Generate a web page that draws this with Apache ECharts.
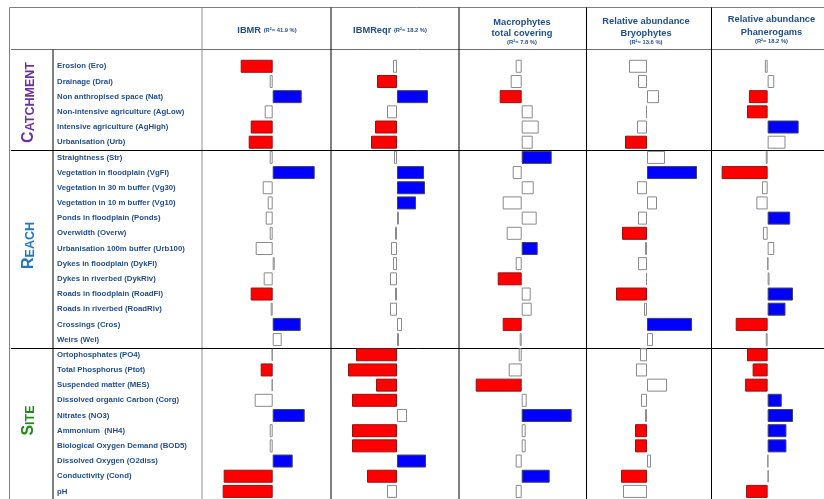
<!DOCTYPE html>
<html>
<head>
<meta charset="utf-8">
<script src="https://cdn.jsdelivr.net/npm/echarts@6/dist/echarts.min.js"></script>
<style>
  html, body { margin: 0; padding: 0; background: #fff; }
  #chart { width: 824px; height: 499px; }
</style>
</head>
<body>
<div id="chart"></div>
<script>
// Explanatory variables, grouped by scale (catchment, reach, site)
const rowLabels = [
  'Erosion (Ero)', 'Drainage (Drai)', 'Non anthropised space (Nat)',
  'Non-intensive agriculture (AgLow)', 'Intensive agriculture (AgHigh)', 'Urbanisation (Urb)',
  'Straightness (Str)', 'Vegetation in floodplain (VgFl)', 'Vegetation in 30 m buffer (Vg30)',
  'Vegetation in 10 m buffer (Vg10)', 'Ponds in floodplain (Ponds)', 'Overwidth (Overw)',
  'Urbanisation 100m buffer (Urb100)', 'Dykes in floodplain (DykFl)', 'Dykes in riverbed (DykRiv)',
  'Roads in floodplain (RoadFl)', 'Roads in riverbed (RoadRiv)', 'Crossings (Cros)', 'Weirs (Wei)',
  'Ortophosphates (PO4)', 'Total Phosphorus (Ptot)', 'Suspended matter (MES)',
  'Dissolved organic Carbon (Corg)', 'Nitrates (NO3)', 'Ammonium  (NH4)',
  'Biological Oxygen Demand (BOD5)', 'Dissolved Oxygen (O2diss)', 'Conductivity (Cond)', 'pH'
];

// Standardised effects per response metric
const ibmr = [-0.32, -0.03, 0.29, -0.08, -0.22, -0.24,
  -0.03, 0.42, -0.10, -0.05, -0.07, -0.03, -0.17, 0.02, -0.09, -0.22, -0.02, 0.28, 0.09,
  -0.01, -0.12, -0.01, -0.18, 0.32, -0.03, -0.03, 0.20, -0.49, -0.50];
const ibmrSig = [1, 0, 1, 0, 1, 1,
  0, 1, 0, 0, 0, 0, 0, 0, 0, 1, 0, 1, 0,
  0, 1, 0, 0, 1, 0, 0, 1, 1, 1];

const ibmreqr = [-0.04, -0.20, 0.31, -0.10, -0.22, -0.26,
  -0.03, 0.27, 0.28, 0.19, 0.02, -0.02, -0.06, -0.04, -0.07, -0.02, -0.07, 0.05, 0.02,
  -0.41, -0.49, -0.21, -0.45, 0.10, -0.45, -0.45, 0.29, -0.30, -0.10];
const ibmreqrSig = [0, 1, 1, 0, 1, 1,
  0, 1, 1, 1, 0, 0, 0, 0, 0, 0, 0, 0, 0,
  1, 1, 1, 1, 0, 1, 1, 1, 1, 0];

const macroCover = [-0.06, -0.11, -0.22, 0.11, 0.17, 0.11,
  0.30, -0.09, 0.12, -0.19, 0.15, -0.15, 0.16, -0.06, -0.24, 0.09, 0.10, -0.19, -0.02,
  -0.03, -0.13, -0.46, 0.05, 0.50, 0.04, 0.04, -0.06, 0.28, -0.06];
const macroCoverSig = [0, 0, 1, 0, 0, 0,
  1, 0, 0, 0, 0, 0, 1, 0, 1, 0, 0, 1, 0,
  0, 0, 1, 0, 1, 0, 0, 0, 1, 0];

const bryophytes = [-0.18, -0.09, 0.12, -0.01, -0.10, -0.22,
  0.18, 0.50, -0.10, 0.10, -0.09, -0.25, -0.02, -0.09, -0.01, -0.31, -0.03, 0.45, 0.06,
  -0.07, -0.11, 0.20, -0.06, -0.02, -0.12, -0.12, 0.04, -0.26, -0.24];
const bryophytesSig = [0, 0, 0, 0, 0, 1,
  0, 1, 0, 0, 0, 1, 0, 0, 0, 1, 0, 1, 0,
  0, 0, 0, 0, 0, 1, 1, 0, 1, 0];

const phanerogams = [-0.03, 0.07, -0.20, -0.22, 0.33, 0.19,
  -0.02, -0.49, -0.06, -0.12, 0.24, -0.05, 0.07, 0.004, 0.02, 0.27, 0.19, -0.34, -0.02,
  -0.22, -0.16, -0.24, 0.15, 0.27, 0.20, 0.20, 0.005, 0.01, -0.23];
const phanerogamsSig = [0, 0, 1, 1, 1, 0,
  0, 1, 0, 0, 1, 0, 0, 0, 0, 1, 1, 1, 0,
  1, 1, 1, 1, 1, 1, 1, 0, 0, 1];

const metrics = [
  { values: ibmr, sig: ibmrSig },
  { values: ibmreqr, sig: ibmreqrSig },
  { values: macroCover, sig: macroCoverSig },
  { values: bryophytes, sig: bryophytesSig },
  { values: phanerogams, sig: phanerogamsSig }
];

// Layout
const zeroX = [272.7, 397, 521.7, 647, 771.3];
const half = 60;            // px for 0.6 units
const gridTop = 58.7;
const gridHeight = 440.8;
const labelX = 57;

const NAVY = '#1f4e8c';
const RED = '#ff0000';
const BLUE = '#0000ff';
const FONT = '"Liberation Sans", Arial, sans-serif';

const grids = [], xAxes = [], yAxes = [], series = [];
metrics.forEach((m, i) => {
  const left = zeroX[i] - half;
  grids.push({ left: left, width: half * 2, top: gridTop, height: gridHeight });
  xAxes.push({ gridIndex: i, type: 'value', min: -0.6, max: 0.6, show: false });
  yAxes.push({
    gridIndex: i, type: 'category', data: rowLabels, inverse: true,
    show: i === 0,
    axisLine: { show: false, onZero: false },
    axisTick: { show: false },
    splitLine: { show: false },
    axisLabel: {
      show: i === 0, align: 'left', margin: left - labelX,
      color: NAVY, fontFamily: FONT, fontWeight: 'bold', fontSize: 7.8
    }
  });
  series.push({
    type: 'bar', xAxisIndex: i, yAxisIndex: i, barWidth: 13,
    data: m.values.map((v, k) => ({
      value: v,
      itemStyle: {
        color: m.sig[k] ? (v < 0 ? RED : BLUE) : '#ffffff',
        borderColor: m.sig[k] ? (v < 0 ? '#9a1010' : '#404060') : '#8a8a8a',
        borderWidth: 1
      }
    }))
  });
});

// Table frame
function line(x1, y1, x2, y2, color, w) {
  return { type: 'line', silent: true, shape: { x1, y1, x2, y2 },
    style: { stroke: color, lineWidth: w || 1 } };
}
const frame = [
  line(9.5, 7.5, 824, 7.5, '#808080'),
  line(9.5, 7.5, 9.5, 499, '#808080'),
  line(11, 49.5, 824, 49.5, '#707070'),
  line(202, 7.5, 202, 499, '#909090'),
  line(331, 7.5, 331, 499, '#000'),
  line(459, 7.5, 459, 499, '#000'),
  line(586.5, 7.5, 586.5, 499, '#000'),
  line(711.5, 7.5, 711.5, 499, '#000'),
  line(53, 49.5, 53, 499, '#000'),
  line(11, 150.5, 824, 150.5, '#000'),
  line(11, 348.5, 824, 348.5, '#000')
];

// Column headers
function text(x, y, str, rich, extra) {
  return Object.assign({ type: 'text', silent: true, x: x, y: y,
    style: { text: str, align: 'center', verticalAlign: 'middle', rich: rich, fill: NAVY,
      font: 'bold 9.3px ' + FONT } }, extra || {});
}
const headRich = {
  t: { fill: NAVY, font: 'bold 9.3px ' + FONT },
  s: { fill: NAVY, font: 'bold 5.8px ' + FONT }
};
const headers = [
  text(267, 30, '{t|IBMR} {s|(R²= 41.9 %)}', headRich),
  text(390, 30, '{t|IBMReqr} {s|(R²= 18.2 %)}', headRich),
  text(522, 22, 'Macrophytes'),
  text(522, 33, 'total covering'),
  text(522, 42, '{s|(R²= 7.8 %)}', headRich),
  text(646, 21, 'Relative abundance'),
  text(646, 33, 'Bryophytes'),
  text(646, 42, '{s|(R²= 13.6 %)}', headRich),
  text(771.5, 19, 'Relative abundance'),
  text(771.5, 32, 'Phanerogams'),
  text(771.5, 41, '{s|(R²= 18.2 %)}', headRich)
];

// Scale labels in small capitals, read bottom to top
function groupLabel(y, first, rest, color) {
  return {
    type: 'text', silent: true, x: 29, y: y, rotation: Math.PI / 2,
    style: {
      text: '{a|' + first + '}{b|' + rest + '}', align: 'center', verticalAlign: 'middle',
      rich: {
        a: { fill: color, font: 'bold 16px ' + FONT, verticalAlign: 'bottom', lineHeight: 16 },
        b: { fill: color, font: 'bold 12.5px ' + FONT, verticalAlign: 'bottom', lineHeight: 16 }
      }
    }
  };
}
const groups = [
  groupLabel(102.5, 'C', 'ATCHMENT', '#7030a0'),
  groupLabel(245.5, 'R', 'EACH', '#1f78c1'),
  groupLabel(420.5, 'S', 'ITE', '#169016')
];

const chart = echarts.init(document.getElementById('chart'), null, { renderer: 'canvas' });
chart.setOption({
  animation: false,
  backgroundColor: '#ffffff',
  grid: grids,
  xAxis: xAxes,
  yAxis: yAxes,
  series: series,
  graphic: frame.concat(headers, groups)
});
</script>
</body>
</html>
